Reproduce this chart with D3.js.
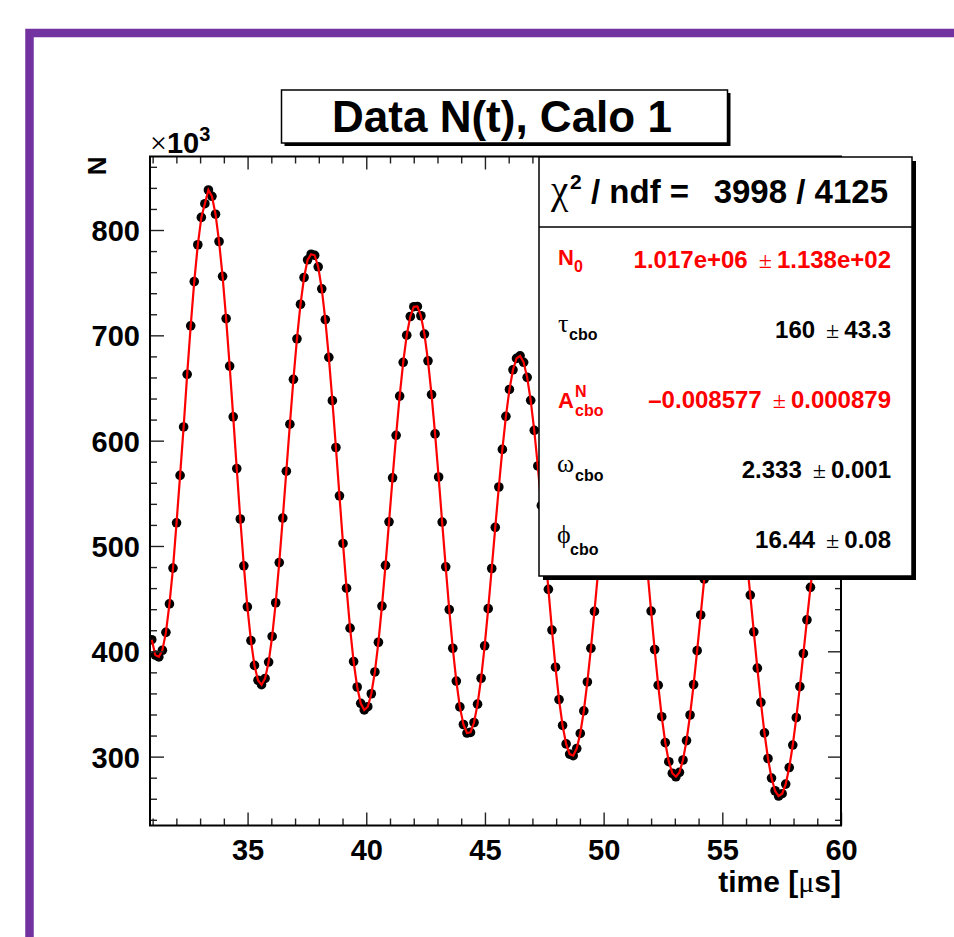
<!DOCTYPE html>
<html><head><meta charset="utf-8">
<script src="https://cdn.jsdelivr.net/npm/d3@7"></script>
<style>
html,body{margin:0;padding:0;background:#fff;}
svg{display:block;}
text{font-family:"Liberation Sans",Arial,Helvetica,sans-serif;font-weight:bold;fill:#000;}
.sym{font-family:"Liberation Serif","Times New Roman",serif;font-weight:normal;}
</style></head><body>
<svg id="c" width="954" height="937"></svg>
<script>
// ---------------- data ----------------
const times = [30.963,31.112,31.261,31.411,31.560,31.709,31.858,32.007,32.157,32.306,
32.455,32.604,32.753,32.903,33.052,33.201,33.350,33.499,33.649,33.798,
33.947,34.096,34.245,34.395,34.544,34.693,34.842,34.991,35.141,35.290,
35.439,35.588,35.737,35.887,36.036,36.185,36.334,36.483,36.633,36.782,
36.931,37.080,37.229,37.379,37.528,37.677,37.826,37.975,38.125,38.274,
38.423,38.572,38.721,38.871,39.020,39.169,39.318,39.467,39.617,39.766,
39.915,40.064,40.213,40.363,40.512,40.661,40.810,40.959,41.109,41.258,
41.407,41.556,41.705,41.855,42.004,42.153,42.302,42.451,42.601,42.750,
42.899,43.048,43.197,43.347,43.496,43.645,43.794,43.943,44.093,44.242,
44.391,44.540,44.689,44.839,44.988,45.137,45.286,45.435,45.585,45.734,
45.883,46.032,46.181,46.331,46.480,46.629,46.778,46.927,47.077,47.226,
47.375,47.524,47.673,47.823,47.972,48.121,48.270,48.419,48.569,48.718,
48.867,49.016,49.165,49.315,49.464,49.613,49.762,49.911,50.061,50.210,
50.359,50.508,50.657,50.807,50.956,51.105,51.254,51.403,51.553,51.702,
51.851,52.000,52.149,52.299,52.448,52.597,52.746,52.895,53.045,53.194,
53.343,53.492,53.641,53.791,53.940,54.089,54.238,54.387,54.537,54.686,
54.835,54.984,55.133,55.283,55.432,55.581,55.730,55.879,56.029,56.178,
56.327,56.476,56.625,56.775,56.924,57.073,57.222,57.371,57.521,57.670,
57.819,57.968,58.117,58.267,58.416,58.565,58.714,58.863,59.013,59.162,
59.311,59.460,59.609,59.759,59.908];
// counts in units of 10^3
const counts = [411,396.4,394.7,401,418,445,479,522,567,613,
663,709,751,786,812,825,838,832,815,789.1,
756.0,715.9,670.8,622.6,573.5,525.6,481.2,442.2,410.2,386.6,
372.5,368.3,374.2,389.8,414.1,446.1,484.2,526.5,571.0,615.6,
658.2,696.7,729.5,754.9,771.7,777,776,765.1,744.2,715.0,
679.1,638.0,593.5,547.6,502.4,459.9,422.0,390.3,366.1,350.6,
344.3,347.4,359.7,380.4,408.6,442.9,481.6,522.9,564.7,605.1,
642.3,674.4,700.1,717.9,727.2,727.4,718.6,701.2,675.8,643.8,
606.4,565.5,522.7,480.2,439.6,402.9,371.7,347.2,330.5,322.4,
323.0,332.4,349.8,374.4,405.2,440.5,478.6,517.7,556.0,591.7,
623.1,648.6,667.3,678.1,680.5,674.4,660.1,638.3,609.8,576.0,
538.4,498.8,458.8,420.2,384.9,354.2,329.6,312.1,302.4,300.9,
307.6,322.0,343.4,370.9,402.9,437.9,474.4,510.6,544.7,575.2,
600.5,619.8,631.8,636.1,632.4,621.0,602.3,577.2,546.8,512.4,
475.7,438.2,401.7,367.8,337.9,313.3,295.2,284.2,280.9,285.1,
296.8,315.2,339.5,368.4,400.6,434.5,468.6,501.1,530.6,555.7,
575.2,588.2,594.1,592.6,583.7,567.9,545.9,518.6,487.3,453.4,
418.4,384.0,351.5,322.5,298.2,279.6,267.6,262.6,264.8,273.9,
289.6,311.0,337.0,366.5,397.9,429.8,460.7,489.1,513.7,533.4,
547.1,554.4,554.7,548.2,535.0];

const xDomain = [30.889, 60];
const yDomain = [234.6, 869.8];
const xMajorTicks = [35,40,45,50,55,60];
const xMinorTicks = [31,32,33,34,36,37,38,39,41,42,43,44,46,47,48,49,51,52,53,54,56,57,58,59];
const yMajorTicks = [300,400,500,600,700,800];
const yMinorTicks = [240,260,280,320,340,360,380,420,440,460,480,520,540,560,580,620,640,660,680,720,740,760,780,820,840,860];

const titleText = "Data N(t), Calo 1";
const xTitle = ["time [", "\u03BC", "s]"];
const yTitle = "N";
const chi2Value = "3998";
const ndfValue = "4125";
const parValues = ["1.017e+06", "160", "\u20130.008577", "2.333", "16.44"];
const parErrors = ["1.138e+02", "43.3", "0.000879", "0.001", "0.08"];
const parColors = ["#ff0000", "#000", "#ff0000", "#000", "#000"];

// ---------------- drawing ----------------
const svg = d3.select("#c");
const L = 150, R = 841, T = 156.5, B = 825.5;
const x = d3.scaleLinear().domain(xDomain).range([L, R]);
const y = d3.scaleLinear().domain(yDomain).range([B, T]);

// purple slide frame
svg.append("rect").attr("x", 29.5).attr("y", 33).attr("width", 1000).attr("height", 1000)
  .attr("fill", "none").attr("stroke", "#7233a0").attr("stroke-width", 8.5);

// clip for plot
svg.append("clipPath").attr("id", "pc").append("rect")
  .attr("x", L).attr("y", T).attr("width", R - L).attr("height", B - T);

const plot = svg.append("g").attr("clip-path", "url(#pc)");
plot.selectAll("circle").data(times).join("circle")
  .attr("cx", (d) => x(d)).attr("cy", (d, i) => y(counts[i]))
  .attr("r", 4.8).attr("fill", "#000");

const line = d3.line().x((d) => x(d)).y((d, i) => y(counts[i])).curve(d3.curveLinear);
plot.append("path").datum(times).attr("d", line)
  .attr("fill", "none").attr("stroke", "#ff0000").attr("stroke-width", 2.2);

// axes (ticks inside)
const tickCol = "#222";
function styleAxis(g) { g.select(".domain").remove(); g.selectAll("line").attr("stroke", tickCol).attr("stroke-width", 1.4); }

const gxB = svg.append("g").attr("transform", `translate(0,${B})`)
  .call(d3.axisBottom(x).tickValues(xMajorTicks).tickSize(-13).tickFormat(d3.format("d")));
styleAxis(gxB);
gxB.selectAll("text").attr("y", 34).attr("dy", 0).style("font-size", "29px")
  .style("font-family", "'Liberation Sans',Arial,sans-serif").style("font-weight", "bold").attr("fill", "#000");
svg.append("g").attr("transform", `translate(0,${B})`)
  .call(d3.axisBottom(x).tickValues(xMinorTicks).tickSize(-7).tickFormat("")).call(styleAxis);
svg.append("g").attr("transform", `translate(0,${T})`)
  .call(d3.axisTop(x).tickValues(xMajorTicks).tickSize(-13).tickFormat("")).call(styleAxis);
svg.append("g").attr("transform", `translate(0,${T})`)
  .call(d3.axisTop(x).tickValues(xMinorTicks).tickSize(-7).tickFormat("")).call(styleAxis);

const gyL = svg.append("g").attr("transform", `translate(${L},0)`)
  .call(d3.axisLeft(y).tickValues(yMajorTicks).tickSize(-14).tickFormat(d3.format("d")));
styleAxis(gyL);
gyL.selectAll("text").attr("x", -10).attr("dy", "0.36em").style("font-size", "29px")
  .style("font-family", "'Liberation Sans',Arial,sans-serif").style("font-weight", "bold").attr("fill", "#000");
svg.append("g").attr("transform", `translate(${L},0)`)
  .call(d3.axisLeft(y).tickValues(yMinorTicks).tickSize(-7).tickFormat("")).call(styleAxis);
svg.append("g").attr("transform", `translate(${R},0)`)
  .call(d3.axisRight(y).tickValues(yMajorTicks).tickSize(-13).tickFormat("")).call(styleAxis);
svg.append("g").attr("transform", `translate(${R},0)`)
  .call(d3.axisRight(y).tickValues(yMinorTicks).tickSize(-6).tickFormat("")).call(styleAxis);

// frame
svg.append("rect").attr("x", L).attr("y", T).attr("width", R - L).attr("height", B - T)
  .attr("fill", "none").attr("stroke", "#000").attr("stroke-width", 2);

// axis titles
const xt = svg.append("text").attr("x", R).attr("y", 892).attr("text-anchor", "end").style("font-size", "30px");
xt.append("tspan").text(xTitle[0]);
xt.append("tspan").attr("class", "sym").text(xTitle[1]);
xt.append("tspan").text(xTitle[2]);

svg.append("text").attr("transform", `translate(106,${T}) rotate(-90)`).attr("text-anchor", "end")
  .style("font-size", "26px").text(yTitle);

const ex = svg.append("text").attr("x", L).attr("y", 153).style("font-size", "29px");
ex.append("tspan").attr("class", "sym").style("font-size", "30px").text("\u00D7");
ex.append("tspan").text("10");
ex.append("tspan").attr("dy", -12).style("font-size", "20px").text("3");

// title box
svg.append("rect").attr("x", 284.5).attr("y", 93).attr("width", 446).attr("height", 53).attr("fill", "#000");
svg.append("rect").attr("x", 281.5).attr("y", 90).attr("width", 446).attr("height", 53)
  .attr("fill", "#fff").attr("stroke", "#000").attr("stroke-width", 1.5);
svg.append("text").attr("x", 502).attr("y", 132).attr("text-anchor", "middle")
  .style("font-size", "44px").text(titleText);

// stats box
const sx = 539, sy = 157, sw = 373, sh = 419;
svg.append("rect").attr("x", sx + 4).attr("y", sy + 4).attr("width", sw).attr("height", sh).attr("fill", "#000");
svg.append("rect").attr("x", sx).attr("y", sy).attr("width", sw).attr("height", sh)
  .attr("fill", "#fff").attr("stroke", "#000").attr("stroke-width", 1.5);
svg.append("line").attr("x1", sx).attr("x2", sx + sw).attr("y1", 227).attr("y2", 227)
  .attr("stroke", "#000").attr("stroke-width", 1.5);

svg.append("text").attr("x", 551).attr("y", 203).attr("class", "sym").style("font-size", "39px").text("\u03C7");
svg.append("text").attr("x", 570).attr("y", 189).style("font-size", "21px").text("2");
svg.append("text").attr("x", 591).attr("y", 203).style("font-size", "33px").text("/ ndf =");
svg.append("text").attr("x", 888).attr("y", 203).attr("text-anchor", "end").style("font-size", "33px")
  .text(chi2Value + " / " + ndfValue);

const rowY = [268, 338, 408, 478, 548];
// values
parValues.forEach((v, i) => {
  const t = svg.append("text").attr("x", 891).attr("y", rowY[i]).attr("text-anchor", "end")
    .style("font-size", "24px").style("fill", parColors[i]);
  t.append("tspan").text(v);
  t.append("tspan").attr("dx", 11).attr("class", "sym").style("fill", parColors[i]).text("\u00B1");
  t.append("tspan").attr("dx", 5).style("fill", parColors[i]).text(parErrors[i]);
});

// labels
function lab(xp, yp, txt, size, cls, col) {
  const t = svg.append("text").attr("x", xp).attr("y", yp).style("font-size", size + "px").style("fill", col).text(txt);
  if (cls) t.attr("class", cls);
  return t;
}
lab(558, 265, "N", 22, null, "#ff0000");
lab(574, 272, "0", 16, null, "#ff0000");
lab(558, 332, "\u03C4", 26, "sym", "#000");
lab(569, 340, "cbo", 16, null, "#000");
lab(558, 408, "A", 22, null, "#ff0000");
lab(575, 397, "N", 16, null, "#ff0000");
lab(575, 416, "cbo", 16, null, "#ff0000");
lab(557, 472, "\u03C9", 26, "sym", "#000");
lab(575, 481, "cbo", 16, null, "#000");
lab(557, 543, "\u03D5", 26, "sym", "#000");
lab(570, 555, "cbo", 16, null, "#000");
</script>
</body></html>
